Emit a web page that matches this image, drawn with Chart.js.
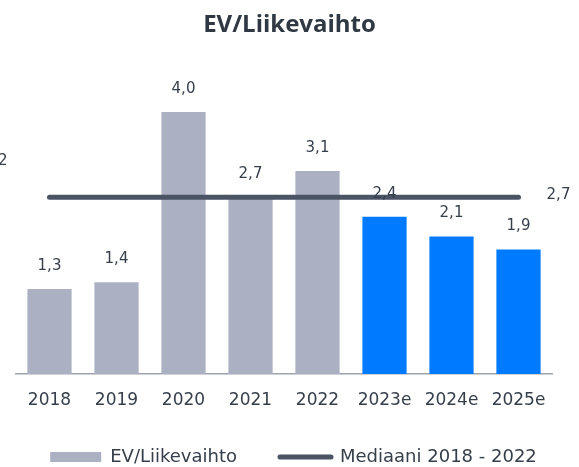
<!DOCTYPE html>
<html>
<head>
<meta charset="utf-8">
<script src="https://cdn.jsdelivr.net/npm/chart.js@4"></script>
<style>
  html, body { margin: 0; padding: 0; background: #fff; }
  #wrap { width: 579px; height: 467px; }
</style>
</head>
<body>
<div id="wrap"><canvas id="evChart"></canvas></div>
<script>
const years = ["2018", "2019", "2020", "2021", "2022", "2023e", "2024e", "2025e"];
const evSales = [1.3, 1.4, 4.0, 2.7, 3.1, 2.4, 2.1, 1.9];
const median = [2.7, 2.7, 2.7, 2.7, 2.7, 2.7, 2.7, 2.7];
const barColors = ["#abb1c3", "#abb1c3", "#abb1c3", "#abb1c3", "#abb1c3", "#007aff", "#007aff", "#007aff"];

const textColor = "#363e4a";
const fontFamily = "'DejaVu Sans', sans-serif";
const fmt = (v) => v.toFixed(1).replace(".", ",");

// value labels above bars + median labels
const valueLabels = {
  id: "valueLabels",
  afterLayout(chart) {
    // nudge legend: a little right of centre and a bit closer to the axis
    chart.legend.left += 4;
    chart.legend.right += 4;
    chart.legend.top -= 4;
    chart.legend.bottom -= 4;
  },
  afterDatasetsDraw(chart) {
    const ctx = chart.ctx;
    ctx.save();
    ctx.font = "15px " + fontFamily;
    ctx.fillStyle = textColor;
    ctx.textAlign = "center";
    ctx.textBaseline = "middle";
    chart.getDatasetMeta(0).data.forEach((bar, i) => {
      ctx.fillText(fmt(evSales[i]), bar.x, bar.y - 23);
    });
    const pts = chart.getDatasetMeta(1).data;
    const last = pts[pts.length - 1];
    ctx.fillText(fmt(median[median.length - 1]), last.x + 40, last.y - 2);
    ctx.textAlign = "right";
    ctx.fillText("2", pts[0].x - 42, pts[0].y - 36);
    ctx.restore();
  },
};

// empty side axes, used only as margins so the legend gets the full width
const spacer = (pos, w) => ({
  position: pos,
  grid: { display: false },
  border: { display: false },
  ticks: { display: false },
  afterFit: (axis) => { axis.width = w; },
});

new Chart(document.getElementById("evChart"), {
  type: "bar",
  data: {
    labels: years,
    datasets: [
      {
        label: "EV/Liikevaihto",
        data: evSales,
        backgroundColor: barColors,
        barPercentage: 0.66,
        categoryPercentage: 1,
        order: 1,
      },
      {
        type: "line",
        label: "Mediaani 2018 - 2022",
        data: median,
        borderColor: "#4a5464",
        backgroundColor: "#4a5464",
        borderWidth: 5,
        borderCapStyle: "round",
        pointRadius: 0,
        order: 0,
      },
    ],
  },
  options: {
    responsive: true,
    maintainAspectRatio: false,
    animation: false,
    layout: { padding: { left: 0, right: 0, bottom: -13 } },
    scales: {
      x: {
        grid: { display: false },
        border: { color: "#9ea3ab", width: 1.5 },
        ticks: { color: textColor, font: { family: fontFamily, size: 17 }, padding: 8 },
        afterFit: (axis) => { axis.height = 35; },
      },
      y: {
        display: false,
        min: 0,
        max: 4.6,
      },
      padL: spacer("left", 16),
      padR: spacer("right", 27),
    },
    plugins: {
      title: {
        display: true,
        text: "EV/Liikevaihto",
        color: "#2f3843",
        font: { family: "'Open Sans', sans-serif", size: 24, weight: "bold" },
        padding: { top: 11, bottom: 33 },
      },
      legend: {
        position: "bottom",
        labels: {
          color: textColor,
          font: { family: fontFamily, size: 18 },
          usePointStyle: true,
          pointStyleWidth: 51,
          boxHeight: 10,
          padding: 43,
          sort: (a, b) => a.datasetIndex - b.datasetIndex,
          generateLabels(chart) {
            const items = Chart.defaults.plugins.legend.labels.generateLabels(chart);
            items.forEach((it) => {
              if (it.datasetIndex === 0) {
                it.pointStyle = "rect";
                it.fillStyle = "#abb1c3";
                it.strokeStyle = "#abb1c3";
                it.lineWidth = 0;
              } else {
                it.pointStyle = "line";
                it.lineWidth = 5;
                it.lineCap = "round";
              }
            });
            return items;
          },
        },
      },
      tooltip: { enabled: false },
    },
  },
  plugins: [valueLabels],
});
</script>
</body>
</html>
